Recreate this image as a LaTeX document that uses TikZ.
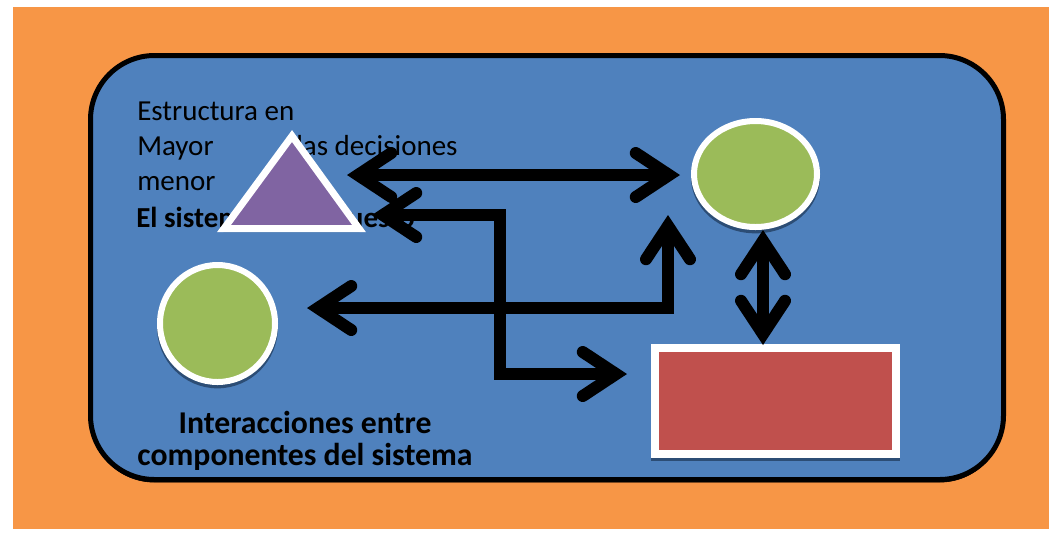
\documentclass[tikz,border=0pt]{standalone}
\usepackage{fontspec}
\setmainfont{Carlito}
\usetikzlibrary{arrows.meta,shapes.geometric,shadows}
\definecolor{orangebg}{HTML}{F79646}
\definecolor{bluebox}{HTML}{4F81BD}
\definecolor{greenc}{HTML}{9BBB59}
\definecolor{redc}{HTML}{C0504D}
\definecolor{purplec}{HTML}{8064A2}
\definecolor{shadowc}{HTML}{2C4D75}
\begin{document}
\begin{tikzpicture}[x=0.75pt,y=-0.75pt,
  txt/.style={anchor=base west, inner sep=0pt, font=\fontsize{21.75}{26}\selectfont},
  btxt/.style={anchor=base, inner sep=0pt, font=\fontsize{23.8}{28}\selectfont\bfseries},
  shapeshadow/.style={general shadow={draw=shadowc, fill=shadowc, shadow yshift=-2.5pt}},
  greenshape/.style={ellipse, draw=white, fill=greenc, line width=4.5pt, inner sep=0pt, shapeshadow},
  redshape/.style={rectangle, draw=white, fill=redc, line width=6pt, inner sep=0pt, shapeshadow},
  tip/.tip={Straight Barb[length=25pt, width=33pt, line cap=round, line join=miter]},
  arr/.style={draw=black, line width=9pt, line join=miter, tip-tip}
]
\useasboundingbox (0,0) rectangle (1049,537);
\fill[white] (0,0) rectangle (1049,537);
\fill[orangebg] (13,7) rectangle (1049,529);
% main rounded box
\draw[line width=3.75pt, fill=bluebox, rounded corners=48pt,
      general shadow={draw=black, fill=black, shadow yshift=-2pt}]
  (90.5,55.5) rectangle (1003.5,479.5);
% texts
\node[txt] (t1) at (137,120) {Estructura en};
\node[txt] (t2) at (137,155) {Mayor};
\node[txt] (t3) at (296,155) {las decisiones};
\node[txt] (t4) at (137,190) {menor};
\node[txt, font=\fontsize{21.75}{26}\selectfont\bfseries] (t5) at (136,227) {El sistema};
\node[txt, font=\fontsize{21.75}{26}\selectfont\bfseries] (t6) at (291,227) {propuesto};
\node[btxt] (b1) at (305,433) {Interacciones entre};
\node[btxt] (b2) at (305,465) {componentes del sistema};
% shapes
\draw[white, line width=5.25pt, fill=purplec, line join=miter, shapeshadow]
  (292,136) -- (359,228.5) -- (224,228.5) -- cycle;
\coordinate (tri) at (292,197);
\node[greenshape, minimum width=86.25pt, minimum height=87.75pt] (lc) at (217.5,323.5) {};
\node[greenshape, minimum width=92.25pt, minimum height=79.5pt] (rc) at (755.5,174) {};
\node[redshape, minimum width=180.75pt, minimum height=79.5pt] (box) at (775.5,401) {};
% connector end points
\coordinate (a1l) at (347,175);
\coordinate (a1r) at (680,175);
\coordinate (a2l) at (372,215);
\coordinate (a2c1) at (500,215);
\coordinate (a2c2) at (500,374);
\coordinate (a2r) at (627,374);
\coordinate (a3l) at (307,308);
\coordinate (a3c) at (668,308);
\coordinate (a3t) at (668,215);
\coordinate (a4t) at (763,230);
\coordinate (a4b) at (763,345);
% connectors
\draw[arr] (a1l) -- (a1r);
\draw[arr] (a2l) -- (a2c1) -- (a2c2) -- (a2r);
\draw[arr] (a3l) -- (a3c) -- (a3t);
\draw[arr] (a4t) -- (a4b);
\end{tikzpicture}
\end{document}
